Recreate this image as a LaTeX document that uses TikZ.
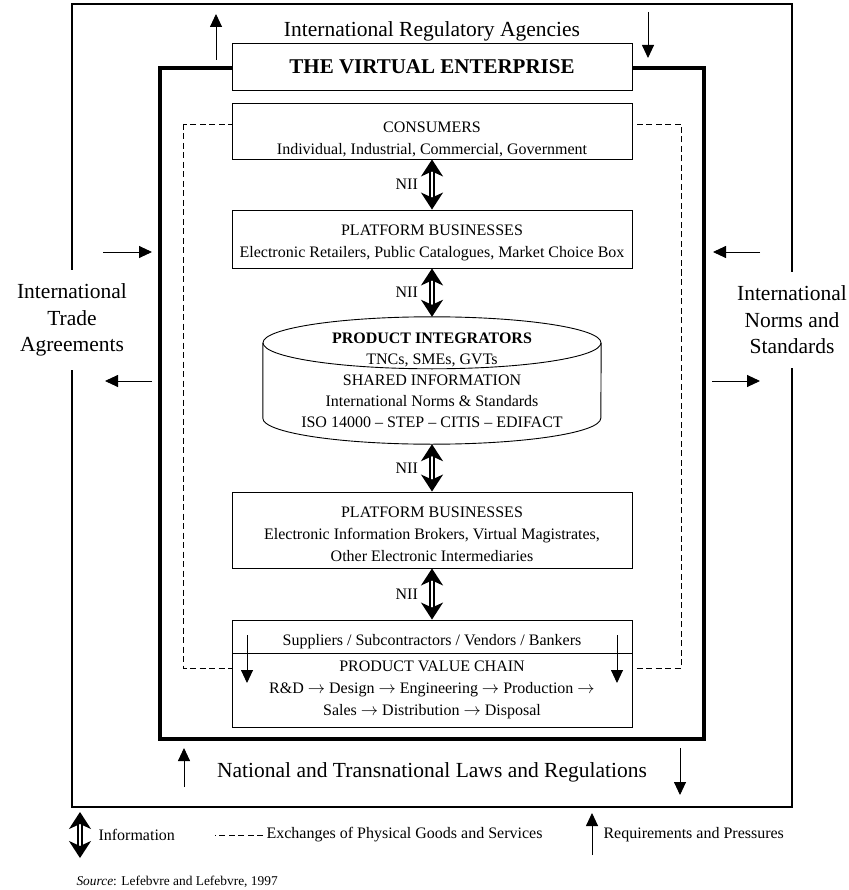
\documentclass[tikz,border=0pt]{standalone}
\usepackage{fontspec}
\setmainfont{Liberation Serif}
\usetikzlibrary{arrows.meta}

\newcommand{\drop}[1]{\rule{0pt}{#1}}

\tikzset{
  box/.style = {draw, fill = white, line width = 0.9pt, minimum width = 400pt, inner ysep = 0.5pt, align = center, font = \fontsize{16}{22}\selectfont},
  big/.style = {font = \fontsize{21.5}{26.5}\selectfont, align = center},
  small/.style = {font = \fontsize{16}{19}\selectfont},
  nii/.style = {double, double distance = 2pt, line width = 1.6pt, {Stealth[length = 17pt, width = 22pt, inset = 5pt]}-{Stealth[length = 17pt, width = 22pt, inset = 5pt]}},
  req/.style = {line width = 0.9pt, -{Triangle[length = 13pt, width = 12pt]}},
  goods/.style = {line width = 0.9pt, dash pattern = on 6pt off 3.5pt}
}

\begin{document}
\begin{tikzpicture}[x = 1pt, y = -1pt]
  \useasboundingbox (0, 0) rectangle (848, 890);

  % Frames
  \draw[line width = 1.4pt] (72, 4) rectangle (792, 807);
  \node[big, fill = white, inner ysep = 14pt] (trade) at (72, 320) {International\\Trade\\Agreements};
  \node[big, fill = white, inner ysep = 14pt] (norms) at (792, 320) {International\\Norms and\\Standards};
  \node[big] (agencies) at (432, 31) {International Regulatory Agencies};
  \node[big] (laws) at (432, 772) {National and Transnational Laws and Regulations};
  \draw[line width = 4.2pt] (160, 68) rectangle (704, 739);
  \draw[goods] (183, 124) rectangle (681, 668);

  % Nodes
  \node[box, minimum height = 47pt, font = \fontsize{21}{24}\selectfont\bfseries] (ve) at (432, 66.5) {THE VIRTUAL ENTERPRISE};
  \node[box, minimum height = 56pt] (consumers) at (432, 131) {\drop{28pt}CONSUMERS\\Individual, Industrial, Commercial, Government};
  \node[box, minimum height = 58pt] (platA) at (432, 239) {\drop{18.5pt}PLATFORM BUSINESSES\\Electronic Retailers, Public Catalogues, Market Choice Box};
  \node[minimum width = 338pt, minimum height = 127pt, align = center, font = \fontsize{16}{21}\selectfont] (integ) at (432, 380.5)
    {\textbf{PRODUCT INTEGRATORS}\\TNCs, SMEs, GVTs\\SHARED INFORMATION\\International Norms \& Standards\\ISO 14000 -- STEP -- CITIS -- EDIFACT};
  \node[box, minimum height = 76pt] (platB) at (432, 530) {\drop{20pt}PLATFORM BUSINESSES\\Electronic Information Brokers, Virtual Magistrates,\\Other Electronic Intermediaries};
  \node[box, minimum height = 33pt] (suppl) at (432, 636.5) {\drop{21pt}Suppliers / Subcontractors / Vendors / Bankers};
  \node[box, minimum height = 74pt] (chain) at (432, 690) {PRODUCT VALUE CHAIN\\R\&D $\rightarrow$ Design $\rightarrow$ Engineering $\rightarrow$ Production $\rightarrow$\\Sales $\rightarrow$ Distribution $\rightarrow$ Disposal};

  % Cylinder
  \draw[line width = 0.9pt] ([yshift = -26pt]integ.north west) -- ([yshift = 26pt]integ.south west)
    arc[start angle = 180, end angle = 360, x radius = 169pt, y radius = 26pt] -- ([yshift = -26pt]integ.north east);
  \draw[line width = 0.9pt] ([yshift = -26pt]integ.north) ellipse[x radius = 169pt, y radius = 26pt];

  % NII links
  \draw[nii] (consumers) to node[left = 10pt, small] {NII} (platA);
  \draw[nii] (platA) to node[left = 10pt, small] {NII} (integ);
  \draw[nii] (integ) to node[left = 10pt, small] {NII} (platB);
  \draw[nii] (platB) to node[left = 10pt, small] {NII} (suppl);

  % Requirements and pressures
  \coordinate (topL) at (216, 60);  \coordinate (topLend) at (216, 14);
  \coordinate (topR) at (648, 12);  \coordinate (topRend) at (648, 58);
  \coordinate (lftA) at (103, 252); \coordinate (lftAend) at (152, 252);
  \coordinate (lftB) at (152, 381); \coordinate (lftBend) at (105, 381);
  \coordinate (rgtA) at (760, 252); \coordinate (rgtAend) at (713, 252);
  \coordinate (rgtB) at (712, 381); \coordinate (rgtBend) at (760, 381);
  \coordinate (botL) at (184, 787); \coordinate (botLend) at (184, 748);
  \coordinate (botR) at (680, 748); \coordinate (botRend) at (680, 795);
  \coordinate (inL) at (247, 635);  \coordinate (inLend) at (247, 683);
  \coordinate (inR) at (617, 635);  \coordinate (inRend) at (617, 683);
  \foreach \a in {topL, topR, lftA, lftB, rgtA, rgtB, botL, botR, inL, inR}
    \draw[req] (\a) -- (\a end);

  % Legend
  \node[small, anchor = west] (info) at (95, 835) {Information};
  \node[small, anchor = west] (exch) at (263, 835) {Exchanges of Physical Goods and Services};
  \node[small, anchor = west] (reqs) at (600, 835) {Requirements and Pressures};
  \node[anchor = west, font = \fontsize{13.4}{15}\selectfont] (source) at (73, 882) {\textit{Source}: Lefebvre and Lefebvre, 1997};
  \coordinate (infoA) at (80, 812); \coordinate (infoB) at (80, 858);
  \coordinate (reqA) at (592, 855); \coordinate (reqB) at (592, 813);
  \draw[nii] (infoA) -- (infoB);
  \draw[goods] (exch.west) -- ++(-48, 0);
  \draw[req] (reqA) -- (reqB);
\end{tikzpicture}
\end{document}
